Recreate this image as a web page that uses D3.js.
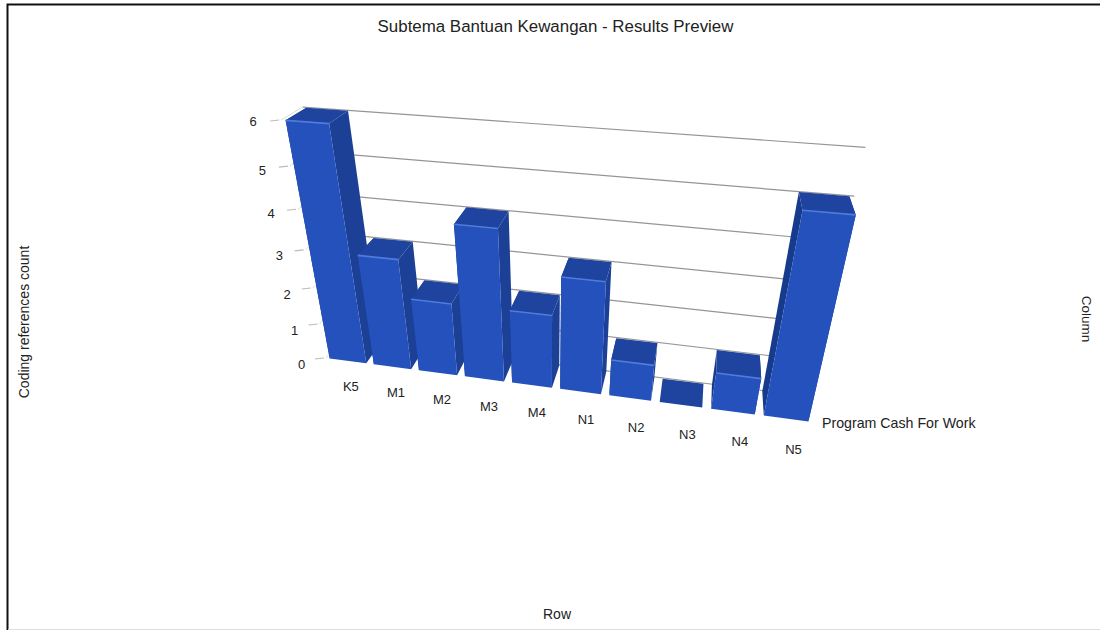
<!DOCTYPE html>
<html><head><meta charset="utf-8">
<script src="https://cdn.jsdelivr.net/npm/d3@7/dist/d3.min.js"></script>
<style>html,body{margin:0;padding:0;background:#fff}svg{display:block}text{font-family:"Liberation Sans",Arial,sans-serif;fill:#222}</style>
</head><body><svg id="c" width="1100" height="630"></svg>
<script>
const categories=["K5","M1","M2","M3","M4","N1","N2","N3","N4","N5"];
const counts=[6,3,2,4,2,3,1,0,1,5];
const valueTicks=[0,1,2,3,4,5,6];
const seriesName="Program Cash For Work";
const chartTitle="Subtema Bantuan Kewangan - Results Preview";
const rowTitle="Row",columnTitle="Column",valueTitle="Coding references count";

// camera: origin plus the far end and the vanishing point of each of the three axes
const O=[326,358];
const cam={u:{end:[813,423],vp:[-3838,-190]},v:{end:[284,120],vp:[550,1548]},w:{weight:0.042,vp:[730,-150]}};
const wgt=(e,vp)=>Math.abs(vp[0]-e[0])>Math.abs(vp[1]-e[1])?(e[0]-O[0])/(vp[0]-e[0]):(e[1]-O[1])/(vp[1]-e[1]);
const A=wgt(cam.u.end,cam.u.vp),B=wgt(cam.v.end,cam.v.vp),C=cam.w.weight;
function project(u,v,w){
  const d=1+u*A+v*B+w*C;
  return [(O[0]+u*A*cam.u.vp[0]+v*B*cam.v.vp[0]+w*C*cam.w.vp[0])/d,
          (O[1]+u*A*cam.u.vp[1]+v*B*cam.v.vp[1]+w*C*cam.w.vp[1])/d];
}
const xBand=d3.scaleBand().domain(categories).range([0,1]).paddingInner(0.17).paddingOuter(0.085);
const yVal=d3.scaleLinear().domain([0,6]).range([0,1]);
const front=0,back=0.97;
const svg=d3.select("#c");
const poly=d3.line();

// frame
svg.append("rect").attr("x",0).attr("y",0).attr("width",1100).attr("height",630).attr("fill","#fff");
svg.append("path").attr("d","M7.5,630V4.5H1100").attr("fill","none").attr("stroke","#111").attr("stroke-width",2);
svg.append("path").attr("d","M8,629.5H1100").attr("fill","none").attr("stroke","#ddd");

// gridlines on back wall + side wall + ticks
valueTicks.forEach(t=>{
  const v=yVal(t);
  svg.append("path").attr("d",poly([project(0,v,1),project(1,v,1)])).attr("fill","none").attr("stroke","#959595").attr("stroke-width",1.2);
  svg.append("path").attr("d",poly([project(0,v,0),project(0,v,1)])).attr("fill","none").attr("stroke","#d5dcd5").attr("stroke-width",1);
  const p=project(0,v,0);
  svg.append("path").attr("d",poly([[p[0]-11,p[1]+1],[p[0]-2,p[1]]])).attr("fill","none").attr("stroke","#bbb").attr("stroke-width",1.2);
  svg.append("text").attr("x",p[0]-28+(6-t)*0.6).attr("y",p[1]+5.5+(t===6?0:t===5||t===4?3:5)).attr("text-anchor","middle").attr("font-size",13).text(t);
});

// bars
categories.forEach((c,i)=>{
  const u0=xBand(c),u1=u0+xBand.bandwidth(),v=yVal(counts[i]);
  const g=svg.append("g");
  const faces=[
    {pts:[project(u0,0,front),project(u0,v,front),project(u0,v,back),project(u0,0,back)],fill:"#163a8c"},
    {pts:[project(u1,0,front),project(u1,0,back),project(u1,v,back),project(u1,v,front)],fill:"#1b4095"},
    {pts:[project(u0,v,front),project(u1,v,front),project(u1,v,back),project(u0,v,back)],fill:"#1f44a0"},
    {pts:[project(u0,0,front),project(u1,0,front),project(u1,v,front),project(u0,v,front)],fill:"#2451bb"}
  ];
  faces.forEach(f=>g.append("path").attr("d",poly(f.pts)+"Z").attr("fill",f.fill));
  if(counts[i]>0) g.append("path").attr("d",poly([project(u0,v,front),project(u1,v,front)])).attr("stroke","#4f7cdc").attr("stroke-width",1.6).attr("fill","none");
  const p=project((u0+u1)/2,0,front);
  svg.append("text").attr("x",p[0]+3+i*0.5).attr("y",p[1]+30+i*0.6).attr("text-anchor","middle").attr("font-size",13).text(c);
});

svg.append("text").attr("x",822).attr("y",428).attr("font-size",14.2).text(seriesName);
svg.append("text").attr("x",555.5).attr("y",32).attr("text-anchor","middle").attr("font-size",16.9).text(chartTitle);
svg.append("text").attr("x",557).attr("y",619).attr("text-anchor","middle").attr("font-size",14).text(rowTitle);
svg.append("text").attr("transform","translate(25,322) rotate(-90)").attr("text-anchor","middle").attr("dy",4).attr("font-size",14).text(valueTitle);
svg.append("text").attr("transform","translate(1086,319) rotate(90)").attr("text-anchor","middle").attr("dy",4).attr("font-size",13.5).text(columnTitle);
</script></body></html>
